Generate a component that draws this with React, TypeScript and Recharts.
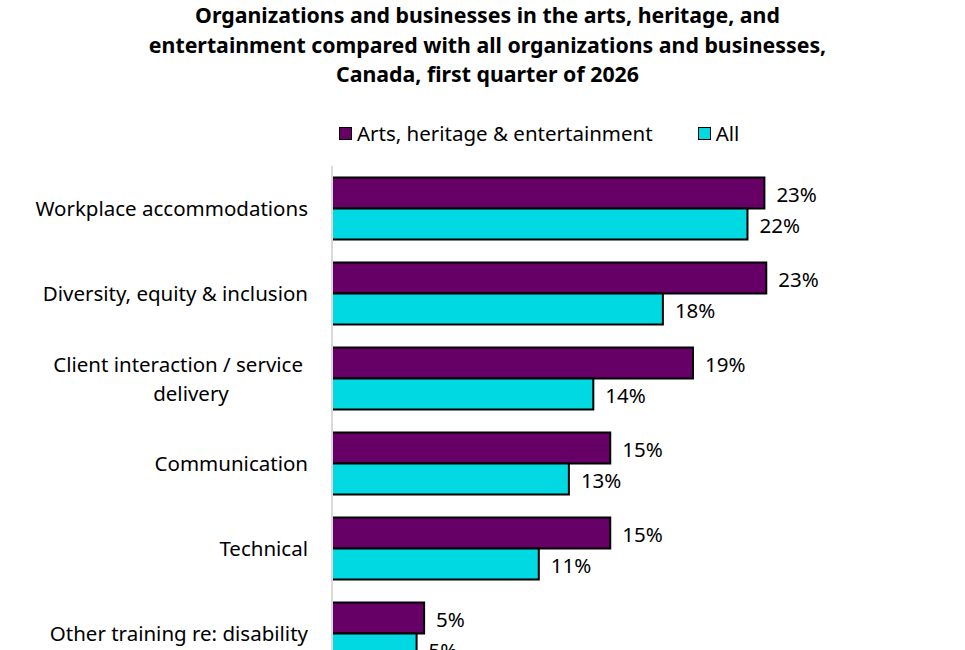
import { BarChart, Bar, XAxis, YAxis, LabelList } from "recharts";

const categories = [
  ["Workplace accommodations"],
  ["Diversity, equity & inclusion"],
  ["Client interaction / service", "delivery"],
  ["Communication"],
  ["Technical"],
  ["Other training re: disability"],
];
const artsValues = [23.0, 23.1, 19.2, 14.8, 14.8, 4.9];
const allValues = [22.1, 17.6, 13.9, 12.6, 11.0, 4.5];
const seriesNames = ["Arts, heritage & entertainment", "All"];
const colorsList = ["#660066", "#00D9E1"];

const FONT = "'Noto Sans', sans-serif";
const FS = 20.5;

const data = categories.map((lines, i) => ({
  name: lines.join(" "),
  lines,
  arts: artsValues[i],
  all: allValues[i],
}));

const CategoryTick = (props: any) => {
  const { x, y, payload } = props;
  const lines: string[] = data[payload.index]?.lines ?? [payload.value];
  const right = x - 2;
  if (lines.length === 1) {
    return (
      <text x={right} y={y} dy={7} textAnchor="end" fontSize={FS} fill="#000" fontFamily={FONT}>
        {lines[0]}
      </text>
    );
  }
  return (
    <g>
      <text x={right - 5} y={y - 14} dy={7} textAnchor="end" fontSize={FS} fill="#000" fontFamily={FONT}>
        {lines[0]}
      </text>
      <text x={right - 117} y={y + 15} dy={7} textAnchor="middle" fontSize={FS} fill="#000" fontFamily={FONT}>
        {lines[1]}
      </text>
    </g>
  );
};

const fmt = (v: any) => `${Math.round(Number(v))}%`;

export default function App() {
  return (
    <div style={{ position: "absolute", left: 0, top: 0, width: 965, height: 700, background: "#fff" }}>
      <div
        style={{
          position: "absolute",
          top: 0,
          left: 0,
          width: 975,
          textAlign: "center",
          fontFamily: FONT,
          fontWeight: 700,
          fontSize: 21.3,
          lineHeight: "29.5px",
          color: "#000",
        }}
      >
        Organizations and businesses in the arts, heritage, and
        <br />
        entertainment compared with all organizations and businesses,
        <br />
        Canada, first quarter of 2026
      </div>
      <div
        style={{
          position: "absolute",
          top: 118,
          left: 339,
          display: "flex",
          fontFamily: FONT,
          fontSize: FS,
          lineHeight: "30px",
          color: "#000",
        }}
      >
        {seriesNames.map((n, i) => (
          <div key={n} style={{ display: "flex", alignItems: "center", marginRight: 45 }}>
            <span
              style={{
                display: "inline-block",
                width: 11,
                height: 11,
                background: colorsList[i],
                border: "1.5px solid #000",
                marginRight: 5,
              }}
            />
            <span>{n}</span>
          </div>
        ))}
      </div>
      <BarChart
        width={965}
        height={700}
        data={data}
        layout="vertical"
        margin={{ top: 166, right: 69, left: 0, bottom: 24 }}
        barCategoryGap="13.5%"
        barGap={0}
      >
        <XAxis type="number" domain={[0, 30]} hide />
        <YAxis
          type="category"
          dataKey="name"
          width={332}
          tickLine={false}
          axisLine={{ stroke: "#d9d9d9", strokeWidth: 2 }}
          tick={<CategoryTick />}
          tickMargin={16}
          interval={0}
        />
        <Bar dataKey="arts" name={seriesNames[0]} fill={colorsList[0]} stroke="#000" strokeWidth={2} isAnimationActive={false}>
          <LabelList dataKey="arts" position="right" offset={12} dy={2} formatter={fmt} style={{ fontFamily: FONT, fontSize: FS, fill: "#000" }} />
        </Bar>
        <Bar dataKey="all" name={seriesNames[1]} fill={colorsList[1]} stroke="#000" strokeWidth={2} isAnimationActive={false}>
          <LabelList dataKey="all" position="right" offset={12} dy={2} formatter={fmt} style={{ fontFamily: FONT, fontSize: FS, fill: "#000" }} />
        </Bar>
      </BarChart>
    </div>
  );
}
